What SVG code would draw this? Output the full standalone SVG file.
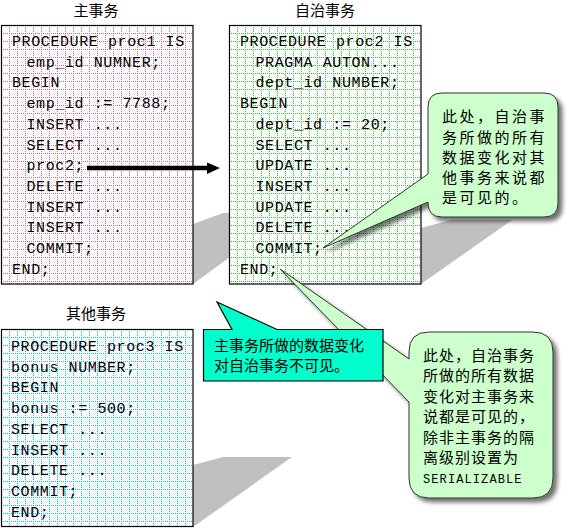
<svg xmlns="http://www.w3.org/2000/svg" width="569" height="528" viewBox="0 0 569 528">
<style>
.code{font-family:"Liberation Mono","DejaVu Sans Mono",monospace;font-size:15px;letter-spacing:0.6px;fill:#000}
.title{font-family:"Noto Sans CJK SC","Noto Sans",sans-serif;font-size:15px;fill:#000;text-anchor:middle}
.cjk{font-family:"Noto Sans CJK SC","Noto Sans",sans-serif;font-size:15px;fill:#000}
.box{stroke:#000;stroke-width:1.2}
.shadow{fill:#c0c0c0}
.callout{fill:#ccffcc;stroke:#333;stroke-width:1;filter:url(#ds)}
</style>
<defs>
<g id="dots">
<rect x="0" y="0" width="1" height="1"/><rect x="2" y="0" width="1" height="1"/><rect x="4" y="0" width="1" height="1"/><rect x="6" y="0" width="1" height="1"/>
<rect x="0" y="2" width="1" height="1"/><rect x="0" y="4" width="1" height="1"/><rect x="0" y="6" width="1" height="1"/>
</g>
<pattern id="gPink" patternUnits="userSpaceOnUse" x="1" y="25" width="8" height="8">
<rect width="8" height="8" fill="#fff"/>
<use href="#dots" fill="#e0608c"/>
</pattern>
<pattern id="gGreen" patternUnits="userSpaceOnUse" x="229" y="25" width="8" height="8">
<rect width="8" height="8" fill="#fff"/>
<use href="#dots" fill="#22cc22"/>
</pattern>
<pattern id="gBlue" patternUnits="userSpaceOnUse" x="1" y="329" width="8" height="8">
<rect width="8" height="8" fill="#fff"/>
<use href="#dots" fill="#00c0ff"/>
</pattern>
<filter id="ds" x="-20%" y="-20%" width="150%" height="150%">
<feDropShadow dx="4" dy="4" stdDeviation="2" flood-color="#000" flood-opacity="0.55"/>
</filter>
</defs>

<g id="shadows">
<polygon class="shadow" points="193,224 223,213 290,213 193,284"/>
<polygon class="shadow" points="421,228 451,220 512,220 421,284"/>
<polygon class="shadow" points="193,465 223,457 292,457 193,527"/>
</g>

<g id="main-tx">
<text class="title" x="96" y="16">主事务</text>
<rect class="box" x="1.5" y="25.5" width="191.5" height="258.5" fill="url(#gPink)"/>
<text class="code" x="12" y="46">PROCEDURE proc1 IS</text>
<text class="code" x="26.5" y="66.7">emp_id NUMNER;</text>
<text class="code" x="12" y="87.4">BEGIN</text>
<text class="code" x="26.5" y="108.1">emp_id := 7788;</text>
<text class="code" x="26.5" y="128.8">INSERT ...</text>
<text class="code" x="26.5" y="149.5">SELECT ...</text>
<text class="code" x="26.5" y="170.2">proc2;</text>
<text class="code" x="26.5" y="190.9">DELETE ...</text>
<text class="code" x="26.5" y="211.6">INSERT ...</text>
<text class="code" x="26.5" y="232.3">INSERT ...</text>
<text class="code" x="26.5" y="253">COMMIT;</text>
<text class="code" x="12" y="273.7">END;</text>
</g>

<g id="auto-tx">
<text class="title" x="325" y="16">自治事务</text>
<rect class="box" x="229.5" y="25.5" width="191.5" height="258.5" fill="url(#gGreen)"/>
<text class="code" x="240" y="46">PROCEDURE proc2 IS</text>
<text class="code" x="255.5" y="66.7">PRAGMA AUTON...</text>
<text class="code" x="255.5" y="87.4">dept_id NUMBER;</text>
<text class="code" x="240" y="108.1">BEGIN</text>
<text class="code" x="255.5" y="128.8">dept_id := 20;</text>
<text class="code" x="255.5" y="149.5">SELECT ...</text>
<text class="code" x="255.5" y="170.2">UPDATE ...</text>
<text class="code" x="255.5" y="190.9">INSERT ...</text>
<text class="code" x="255.5" y="211.6">UPDATE ...</text>
<text class="code" x="255.5" y="232.3">DELETE ...</text>
<text class="code" x="255.5" y="253">COMMIT;</text>
<text class="code" x="240" y="273.7">END;</text>
</g>

<g id="other-tx">
<text class="title" x="96" y="319">其他事务</text>
<rect class="box" x="1.5" y="329.5" width="191.5" height="197" fill="url(#gBlue)"/>
<text class="code" x="11" y="351">PROCEDURE proc3 IS</text>
<text class="code" x="11" y="371.7">bonus NUMBER;</text>
<text class="code" x="11" y="392.4">BEGIN</text>
<text class="code" x="11" y="413.1">bonus := 500;</text>
<text class="code" x="11" y="433.8">SELECT ...</text>
<text class="code" x="11" y="454.5">INSERT ...</text>
<text class="code" x="11" y="475.2">DELETE ...</text>
<text class="code" x="11" y="495.9">COMMIT;</text>
<text class="code" x="11" y="516.6">END;</text>
</g>

<g id="connectors">
<line x1="87" y1="168" x2="209" y2="168" stroke="#000" stroke-width="4.3"/>
<polygon points="207,162.5 220,168 207,174" fill="#000"/>
</g>

<g id="note-serializable">
<path class="callout" d="M429,332H533Q553,332 553,352V478Q553,498 533,498H429Q409,498 409,478V402L280,269L409,359V352Q409,332 429,332Z"/>
<text class="cjk" x="423" y="361" letter-spacing="1">此处，自治事务</text>
<text class="cjk" x="423" y="381" letter-spacing="1">所做的所有数据</text>
<text class="cjk" x="423" y="402" letter-spacing="1">变化对主事务来</text>
<text class="cjk" x="423" y="422" letter-spacing="1">说都是可见的，</text>
<text class="cjk" x="423" y="443" letter-spacing="1">除非主事务的隔</text>
<text class="cjk" x="423" y="463" letter-spacing="1">离级别设置为</text>
<text x="423" y="483" font-family="Liberation Mono, monospace" font-size="12" letter-spacing="1.1">SERIALIZABLE</text>
</g>

<g id="note-invisible">
<path d="M203.5,329.5H232L217,302L277,329.5H383V381H203.5Z" fill="#00ffcc" stroke="#000" stroke-width="1.2"/>
<text class="cjk" x="214" y="351" font-size="16">主事务所做的数据变化</text>
<text class="cjk" x="214" y="371" font-size="16">对自治事务不可见。</text>
</g>

<g id="note-visible">
<path class="callout" d="M442,93H544Q558,93 558,107V203Q558,217 544,217H442Q428,217 428,203V202L323,248L428,174V107Q428,93 442,93Z"/>
<text class="cjk" x="442" y="122" letter-spacing="2.5">此处，自治事</text>
<text class="cjk" x="442" y="142.5" letter-spacing="2.5">务所做的所有</text>
<text class="cjk" x="442" y="163" letter-spacing="2.5">数据变化对其</text>
<text class="cjk" x="442" y="183" letter-spacing="2.5">他事务来说都</text>
<text class="cjk" x="442" y="203" letter-spacing="2.5">是可见的。</text>
</g>
</svg>
